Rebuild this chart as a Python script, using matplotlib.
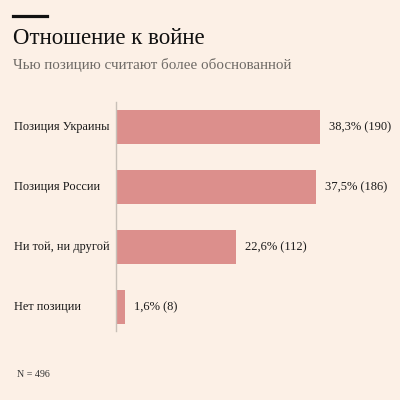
import matplotlib
matplotlib.use('Agg')
from matplotlib import pyplot, transforms

# survey data
cats = ['Позиция Украины', 'Позиция России', 'Ни той, ни другой', 'Нет позиции']
pct = [38.3, 37.5, 22.6, 1.6]
cnt = [190, 186, 112, 8]
n_total = 496

pyplot.rcParams['font.family'] = ['Liberation Serif', 'DejaVu Serif']

bg = '#fcf0e6'
fig = pyplot.figure(figsize=(4, 4), dpi=100, facecolor=bg)

# axes placed in pixel terms: left 116, right 400, top 102, bottom 331
ax = fig.add_axes([116/400, 1 - 331/400, 284/400, 229/400])
ax.set_facecolor(bg)

ys = list(range(len(cats)))
ax.barh(ys, pct, height=0.567, color='#dc8f8c', left=0)
ax.set_xlim(0, 284/5.33)
ax.set_ylim(3.4, -0.417)

for s in ['top', 'right', 'bottom']:
    ax.spines[s].set_visible(False)
ax.spines['left'].set_color('#c8c0b8')
ax.spines['left'].set_linewidth(1)
ax.set_xticks([])
ax.set_yticks([])

# category labels at the left edge of the figure
tr = transforms.blended_transform_factory(fig.transFigure, ax.transData)
for y, c in zip(ys, cats):
    ax.text(14/400, y, c, transform=tr, ha='left', va='center',
            fontsize=8.9, color='#1a1a1a')

# value labels
for y, p, k in zip(ys, pct, cnt):
    lab = f'{p:.1f}'.replace('.', ',') + f'% ({k})'
    ax.annotate(lab, (p, y), xytext=(6.5, 0), textcoords='offset points',
                ha='left', va='center', fontsize=9.0, color='#1a1a1a')

# header
fig.add_artist(pyplot.Line2D([13/400, 47/400], [1 - 15.5/400, 1 - 15.5/400],
                             color='#111111', lw=2.3))
fig.text(13/400, 1 - 44/400, 'Отношение к войне', fontsize=16.5,
         color='#111111', ha='left', va='baseline')
fig.text(13/400, 1 - 69/400, 'Чью позицию считают более обоснованной',
         fontsize=10.8, color='#6e6a66', ha='left', va='baseline')

fig.text(17/400, 1 - 377/400, f'N = {n_total}', fontsize=7.2,
         color='#333333', ha='left', va='baseline')

fig.savefig('out.png', dpi=100, facecolor=bg)
